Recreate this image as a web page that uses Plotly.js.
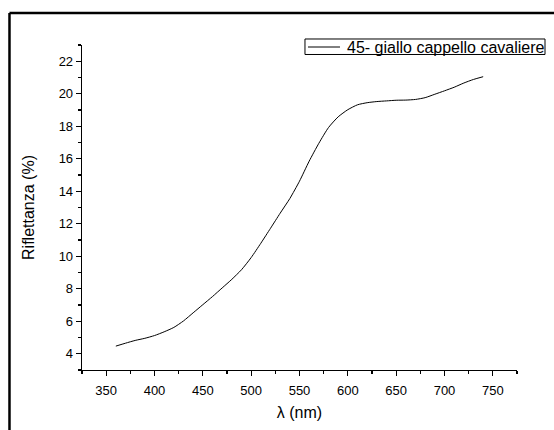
<!DOCTYPE html>
<html>
<head>
<meta charset="utf-8">
<script src="https://cdn.plot.ly/plotly-3.0.1.min.js"></script>
<style>
  html, body { margin: 0; padding: 0; background: #fff; }
  #chart { width: 554px; height: 430px; }
</style>
</head>
<body>
<div id="chart"></div>
<script>
// Reflectance spectrum, sampled every 10 nm
const wavelength = [360, 370, 380, 390, 400, 410, 420, 430, 440, 450,
                    460, 470, 480, 490, 500, 510, 520, 530, 540, 550,
                    560, 570, 580, 590, 600, 610, 620, 630, 640, 650,
                    660, 670, 680, 690, 700, 710, 720, 730, 740];
const reflectance = [4.47, 4.65, 4.82, 4.95, 5.12, 5.35, 5.62, 6.02, 6.52, 7.02,
                     7.52, 8.05, 8.58, 9.17, 9.92, 10.80, 11.72, 12.65, 13.55, 14.62,
                     15.85, 16.95, 17.92, 18.58, 19.02, 19.32, 19.45, 19.52, 19.56, 19.60,
                     19.61, 19.65, 19.76, 19.97, 20.18, 20.40, 20.66, 20.88, 21.05];
const seriesName = "45- giallo cappello cavaliere";
const xTicks = [350, 400, 450, 500, 550, 600, 650, 700, 750];
const yTicks = [4, 6, 8, 10, 12, 14, 16, 18, 20, 22];

const font = "Liberation Sans, Arial, sans-serif";

const trace = {
  x: wavelength,
  y: reflectance,
  type: "scatter",
  mode: "lines",
  name: seriesName,
  showlegend: false,
  line: { color: "#000", width: 1, shape: "spline", smoothing: 0.6 }
};

const axisCommon = {
  showline: true,
  linecolor: "#000",
  linewidth: 1.3,
  showgrid: false,
  zeroline: false,
  ticks: "outside",
  ticklen: 5,
  tickwidth: 1.2,
  tickcolor: "#000",
  tickfont: { family: font, size: 13, color: "#000" },
  mirror: false
};

// Boxed key in the top-right corner (paper coordinates)
const keyBox = { x0: 0.5126, x1: 1.0644, y0: 0.9708, y1: 1.0185 };
const keyLine = { x0: 0.5195, x1: 0.5931, y: 0.9938 };
const keyTextX = 0.6046;

const layout = {
  width: 554,
  height: 430,
  margin: { l: 82, r: 37, t: 45, b: 60 },
  paper_bgcolor: "#fff",
  plot_bgcolor: "#fff",
  font: { family: font, color: "#000" },
  showlegend: false,
  xaxis: Object.assign({}, axisCommon, {
    range: [325, 775],
    tickmode: "array",
    tickvals: xTicks,
    ticklabelstandoff: 3,
    minor: { dtick: 25, tick0: 325, ticks: "outside", ticklen: 3, tickwidth: 1.2, tickcolor: "#000" },
    title: { text: "λ (nm)", font: { family: font, size: 16, color: "#000" }, standoff: 10 }
  }),
  yaxis: Object.assign({}, axisCommon, {
    range: [3, 23],
    tickmode: "array",
    tickvals: yTicks,
    minor: { dtick: 1, tick0: 3, ticks: "outside", ticklen: 3, tickwidth: 1.2, tickcolor: "#000" },
    title: { text: "Riflettanza (%)", font: { family: font, size: 16, color: "#000" }, standoff: 20 }
  }),
  shapes: [
    // outer frame: top and left edges of the page border
    { type: "line", xref: "paper", yref: "paper",
      x0: -0.1667, x1: 1.2, y0: 1.0985, y1: 1.0985,
      line: { color: "#000", width: 2.5 } },
    { type: "line", xref: "paper", yref: "paper",
      x0: -0.1667, x1: -0.1667, y0: 1.0985, y1: -0.3,
      line: { color: "#000", width: 2.5 } },
    // key box and its line sample
    { type: "rect", xref: "paper", yref: "paper",
      x0: keyBox.x0, x1: keyBox.x1, y0: keyBox.y0, y1: keyBox.y1,
      line: { color: "#000", width: 1 }, fillcolor: "#fff" },
    { type: "line", xref: "paper", yref: "paper",
      x0: keyLine.x0, x1: keyLine.x1, y0: keyLine.y, y1: keyLine.y,
      line: { color: "#000", width: 1 } }
  ],
  annotations: [
    { xref: "paper", yref: "paper", x: keyTextX, y: keyLine.y,
      xanchor: "left", yanchor: "middle", showarrow: false,
      text: seriesName, font: { family: font, size: 16, color: "#000" } }
  ]
};

Plotly.newPlot("chart", [trace], layout, { displayModeBar: false, staticPlot: true });
</script>
</body>
</html>
